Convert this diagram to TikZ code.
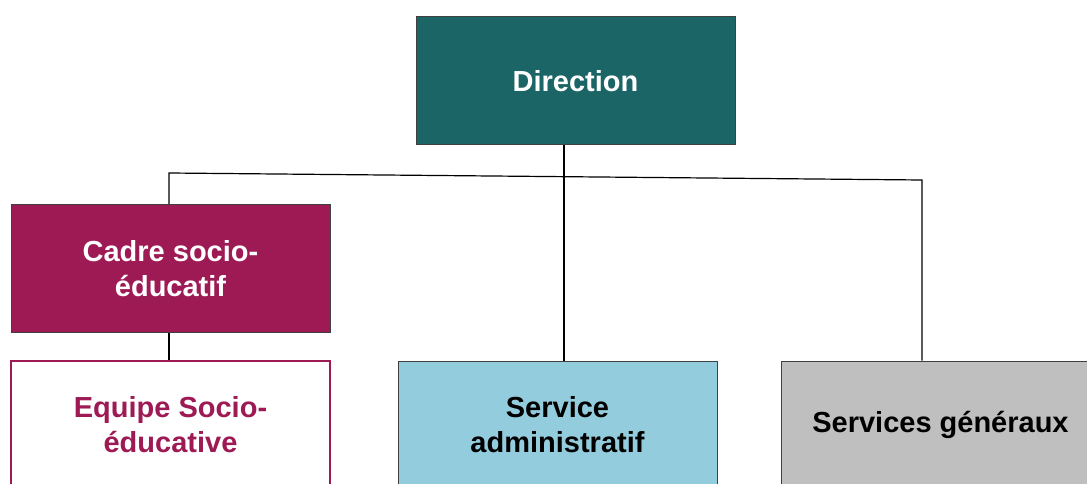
\documentclass[tikz,border=0pt]{standalone}
\usepackage{fontspec}
\setmainfont{Liberation Sans}
\definecolor{dirteal}{HTML}{1C6567}
\definecolor{cadrered}{HTML}{9E1A55}
\definecolor{adminblue}{HTML}{93CCDD}
\definecolor{gengray}{HTML}{BFBFBF}
\tikzset{
  box/.style={draw=black!75, line width=1pt, minimum width=319pt, minimum height=128pt,
    inner sep=0pt, align=center, font=\bfseries\fontsize{29}{35}\selectfont},
  link/.style={line width=1.2pt, black}
}

\begin{document}
\begin{tikzpicture}[x=1pt,y=-1pt]
        \useasboundingbox (0,0) rectangle (1087,484);
        \coordinate (bar left) at (169,173);
        \coordinate (bar right) at (922,180);
        \coordinate (dir foot) at (564,176);

        % the boxes
        \node[box, fill=dirteal, text=white] (direction) at (575.5,81) {Direction};
        \node[box, fill=cadrered, text=white] (cadre) at (170.5,268.5) {Cadre socio-\\éducatif};
        \node[box, draw=cadrered, line width=2pt, fill=white, text=cadrered] (equipe) at (170.5,425) {Equipe Socio-\\éducative};
        \node[box, fill=adminblue] (admin) at (557.5,425) {Service\\administratif};
        \node[box, fill=gengray] (generaux) at (940.5,425) {Services généraux};

        % the connectors
        \draw[link] (cadre.north-|bar left) -- (bar left) -- (bar right) -- (bar right|-generaux.north);
        \draw[link] (dir foot|-direction.south) -- (dir foot|-admin.north);
        \draw[link] (cadre.south-|bar left) -- (equipe.north-|bar left);
\end{tikzpicture}
\end{document}
